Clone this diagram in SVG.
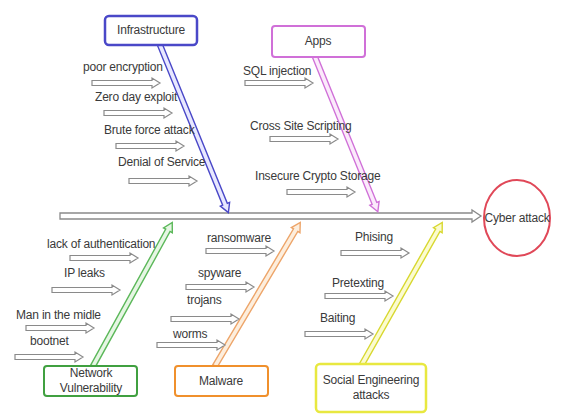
<svg xmlns="http://www.w3.org/2000/svg" xmlns:xlink="http://www.w3.org/1999/xlink" width="564" height="418" viewBox="0 0 564 418">
<style>
text{font-family:"Liberation Sans",Arial,sans-serif;font-size:12px;fill:#3a3a3a;letter-spacing:-0.2px}
.lbl{text-anchor:start}
.box text{text-anchor:middle}
.sa{fill:#fff;stroke:#8a8a8a;stroke-width:1.2}
</style>
<defs>
<path id="sa" class="sa" d="M0,-2.5 H60 V-5 L68,0 L60,5 V2.5 H0 Z"/>
</defs>
<rect width="564" height="418" fill="#fff"/>
<g id="connectors">
<path id="spine" d="M60,213 H472 V210 L481,216 L472,222 V219 H60 Z" fill="#fff" stroke="#8a8a8a" stroke-width="1.3"/>
<path id="b-infra" transform="translate(160,45) rotate(67.8)" d="M0,-2.5 H172 V-5 L181,0 L172,5 V2.5 H0 Z" fill="#e8e8ff" stroke="#4a48c8" stroke-width="1.4"/>
<path id="b-apps" transform="translate(315,57) rotate(67.9)" d="M0,-2.5 H158 V-5 L167,0 L158,5 V2.5 H0 Z" fill="#fbeafb" stroke="#d070d8" stroke-width="1.4"/>
<path id="b-net" transform="translate(93,366) rotate(-61.1)" d="M0,-2.5 H155 V-5 L164,0 L155,5 V2.5 H0 Z" fill="#e6f6e4" stroke="#5cb85a" stroke-width="1.4"/>
<path id="b-mal" transform="translate(215,366) rotate(-59.3)" d="M0,-2.5 H158 V-5 L167,0 L158,5 V2.5 H0 Z" fill="#fdeedd" stroke="#eda56a" stroke-width="1.4"/>
<path id="b-soc" transform="translate(361,366) rotate(-60.5)" d="M0,-2.5 H156 V-5 L165,0 L156,5 V2.5 H0 Z" fill="#fbfbd0" stroke="#d8d830" stroke-width="1.4"/>
<use href="#sa" x="92" y="83"/>
<use href="#sa" x="104" y="113"/>
<use href="#sa" x="116" y="146"/>
<use href="#sa" x="129" y="181"/>
<use href="#sa" x="245" y="83"/>
<use href="#sa" x="270" y="139"/>
<use href="#sa" x="287" y="192"/>
<use href="#sa" x="70" y="258"/>
<use href="#sa" x="52" y="290"/>
<use href="#sa" x="26" y="328"/>
<use href="#sa" x="15" y="357"/>
<use href="#sa" x="206" y="251"/>
<use href="#sa" x="186" y="287"/>
<use href="#sa" x="171" y="319"/>
<use href="#sa" x="157" y="345"/>
<use href="#sa" x="341" y="253"/>
<use href="#sa" x="325" y="296"/>
<use href="#sa" x="305" y="334"/>
</g>
<g id="labels" class="lbl">
<text x="83" y="71">poor encryption</text>
<text x="95" y="101">Zero day exploit</text>
<text x="104" y="134">Brute force attack</text>
<text x="118" y="166">Denial of Service</text>
<text x="243" y="75">SQL injection</text>
<text x="250" y="130">Cross Site Scripting</text>
<text x="255" y="180">Insecure Crypto Storage</text>
<text x="47" y="248">lack of authentication</text>
<text x="64" y="277">IP leaks</text>
<text x="16" y="319">Man in the midle</text>
<text x="30" y="345">bootnet</text>
<text x="207" y="242">ransomware</text>
<text x="198" y="277">spyware</text>
<text x="187" y="304">trojans</text>
<text x="173" y="338">worms</text>
<text x="355" y="241">Phising</text>
<text x="332" y="287">Pretexting</text>
<text x="320" y="322">Baiting</text>
</g>
<g id="infrastructure" class="box">
<rect x="105" y="16" width="92" height="29" rx="4" fill="#fff" stroke="#4a48c8" stroke-width="2.5"/>
<text x="151" y="34">Infrastructure</text>
</g>
<g id="apps" class="box">
<rect x="272" y="26" width="93" height="31" rx="3" fill="#fff" stroke="#d070d8" stroke-width="2"/>
<text x="318" y="45">Apps</text>
</g>
<g id="cyber-attack" class="box">
<ellipse cx="517" cy="218" rx="33" ry="38" fill="#fff" stroke="#e04858" stroke-width="2"/>
<text x="517" y="222">Cyber attack</text>
</g>
<g id="network-vulnerability" class="box">
<rect x="44" y="366" width="93" height="30" rx="3" fill="#fff" stroke="#40a040" stroke-width="2"/>
<text x="91" y="377">Network</text>
<text x="91" y="392">Vulnerability</text>
</g>
<g id="malware" class="box">
<rect x="175" y="366" width="93" height="30" rx="3" fill="#fff" stroke="#f0902c" stroke-width="2"/>
<text x="221" y="385">Malware</text>
</g>
<g id="social-engineering" class="box">
<rect x="316" y="364" width="110" height="48" rx="4" fill="#fff" stroke="#e8e840" stroke-width="2.5"/>
<text x="371" y="384">Social Engineering</text>
<text x="371" y="399">attacks</text>
</g>
</svg>
